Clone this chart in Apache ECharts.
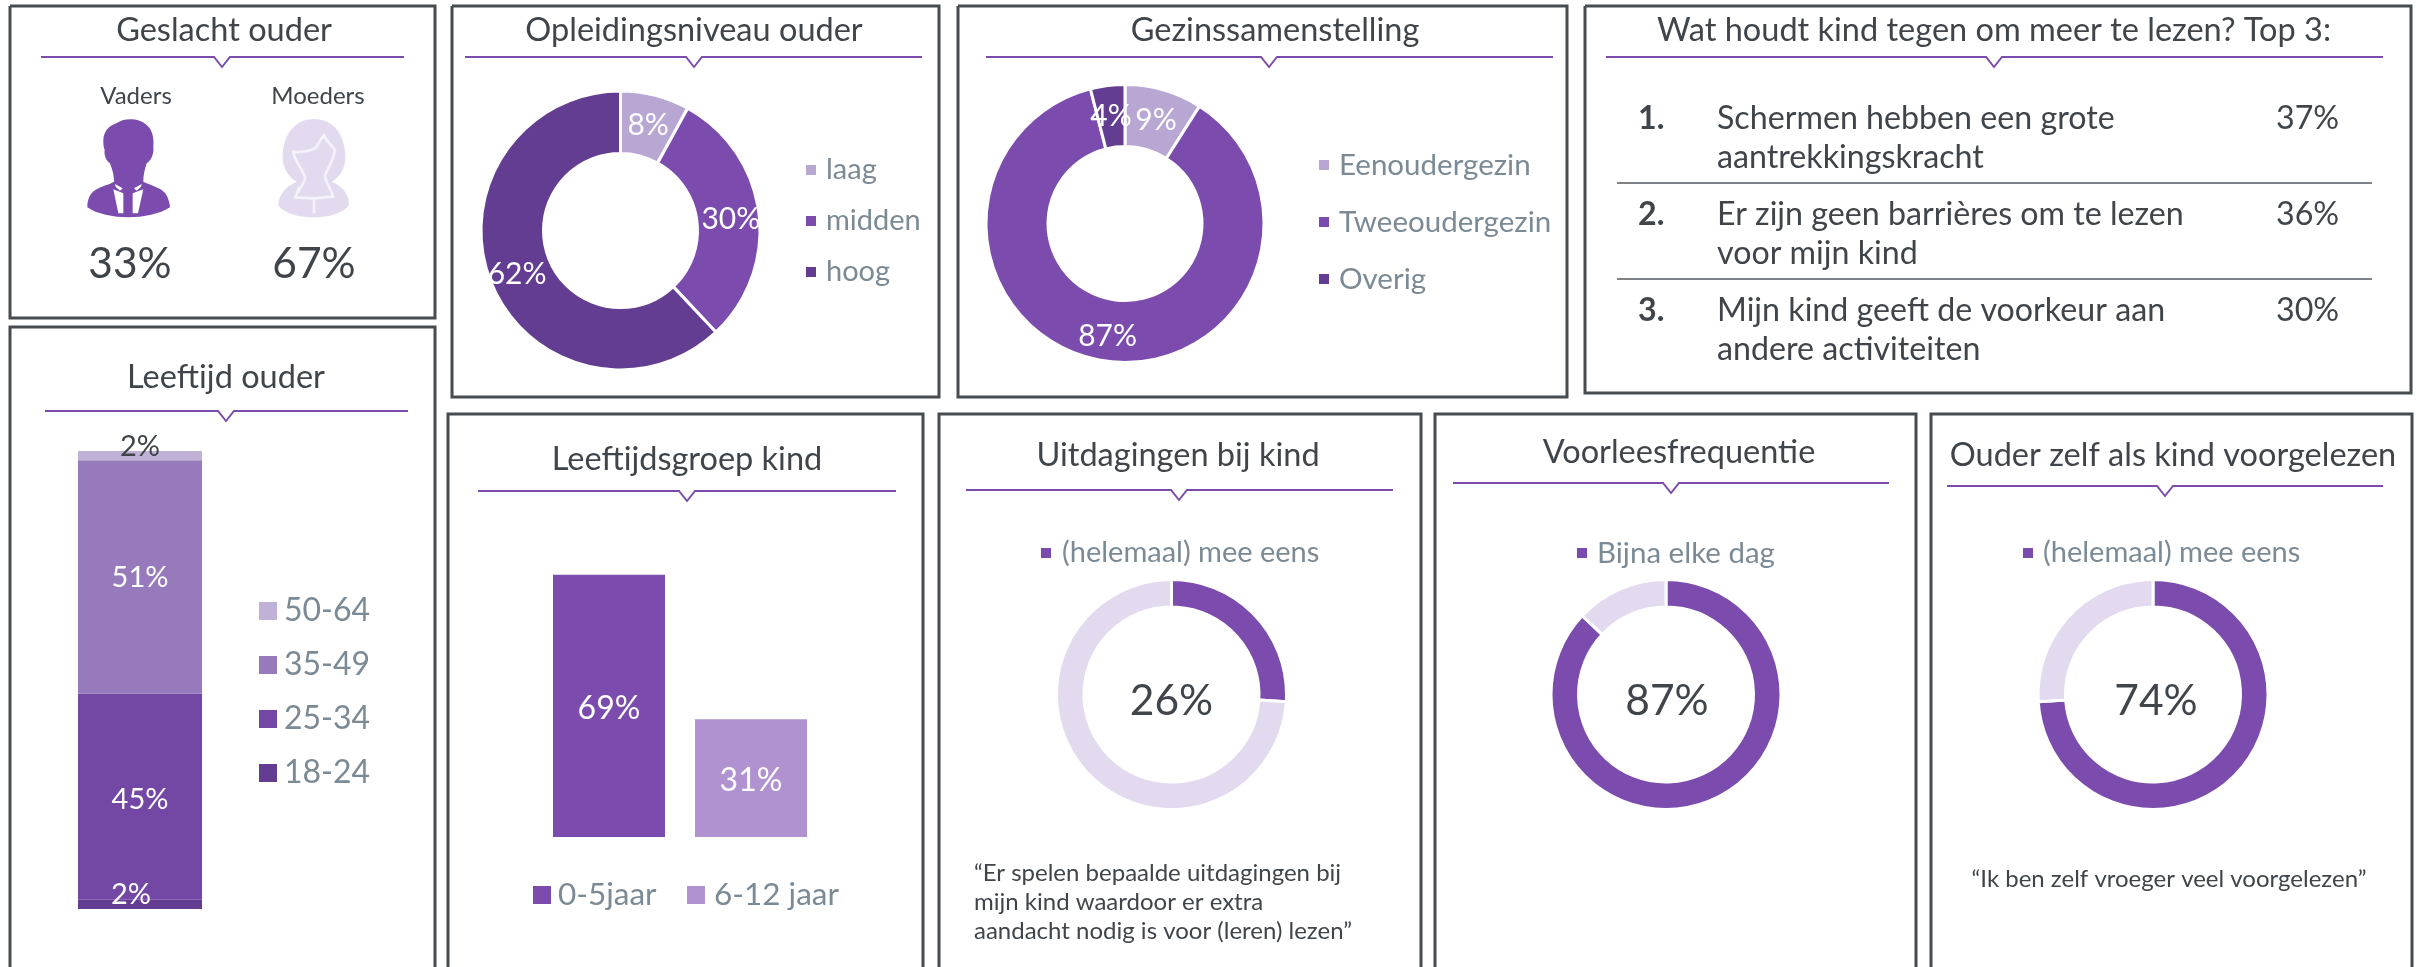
<!DOCTYPE html>
<html><head><meta charset="utf-8">
<style>html,body{margin:0;padding:0;background:#fff}#c{width:2420px;height:967px}</style>
<script src="https://cdn.jsdelivr.net/npm/echarts@6/dist/echarts.min.js"></script>
</head><body><div id="c"></div>
<script>
// ---- data ----
const genderLabels = ['Vaders', 'Moeders'];
const genderValues = [33, 67];
const educationNames = ['laag', 'midden', 'hoog'];
const educationValues = [8, 30, 62];
const familyNames = ['Eenoudergezin', 'Tweeoudergezin', 'Overig'];
const familyValues = [9, 87, 4];
const parentAgeNames = ['18-24', '25-34', '35-49', '50-64'];
const parentAgeValues = [2, 45, 51, 2];
const childAgeNames = ['0-5jaar', '6-12 jaar'];
const childAgeValues = [69, 31];
const challengeValue = [26, 74];
const readAloudValue = [87, 13];
const parentReadValue = [74, 26];
const agreeLabel = '(helemaal) mee eens';
const dailyLabel = 'Bijna elke dag';
const top3Numbers = ['1.', '2.', '3.'];
const top3Lines = [
  ['Schermen hebben een grote', 'aantrekkingskracht'],
  ['Er zijn geen barrières om te lezen', 'voor mijn kind'],
  ['Mijn kind geeft de voorkeur aan', 'andere activiteiten']
];
const top3Values = [37, 36, 30];
const quoteChallenge = ['“Er spelen bepaalde uitdagingen bij', 'mijn kind waardoor er extra', 'aandacht nodig is voor (leren) lezen”'];
const quoteParent = '“Ik ben zelf vroeger veel voorgelezen”';

// ---- style ----
const FONT = 'Lato';
const DARK = '#3f454a', GREY = '#7b8a94', BORDER = '#474c51';
const P = '#7b4cae', PD = '#633d91', PL = '#b8a6d3', PXL = '#e3daf0';

const g = [];
function text(t, x, y, size, opt) {
  opt = opt || {};
  g.push({type:'text', silent:true, z:20, x, y, style:{text:t, fill:opt.fill||DARK,
    font:(opt.weight||'normal')+' '+size+'px '+FONT, textAlign:opt.align||'center', textVerticalAlign:'middle'}});
}
function panel(x0,y0,x1,y1,open){
  const pts = open ? [[x0,967],[x0,y0],[x1,y0],[x1,967]] : [[x0,y0],[x1,y0],[x1,y1],[x0,y1],[x0,y0]];
  g.push({type:'polyline', silent:true, shape:{points:pts}, style:{fill:null, stroke:BORDER, lineWidth:3}});
}
function heading(t, cx, cy, x0, x1, nx, ly, size){
  text(t, cx, cy, size||32.5);
  g.push({type:'polyline', silent:true, shape:{points:[[x0,ly],[nx-8,ly],[nx,ly+10],[nx+8,ly],[x1,ly]]},
    style:{fill:null, stroke:P, lineWidth:2}});
}
function line(x0,x1,y){g.push({type:'line',silent:true,shape:{x1:x0,y1:y,x2:x1,y2:y},style:{stroke:'#55595e',lineWidth:1.5}});}
let iconCount = 0;
function icon(d, fill, stroke, lw){
  const shapeName = 'personIcon' + (iconCount++);
  echarts.graphic.registerShape(shapeName, echarts.graphic.extendPath(d, {}));
  g.push({type:shapeName, silent:true, scaleX:1/3, scaleY:1/3, shape:{},
    style:{fill:fill||null, stroke:stroke||null, lineWidth:lw||0, lineJoin:'round'}});
}

// panels
panel(10,6,435,318); panel(452,6,939,397); panel(958,6,1567,397); panel(1585,6,2411,393);
panel(10,327,435,0,true); panel(448,414,923,0,true); panel(939,414,1421,0,true); panel(1435,414,1916,0,true); panel(1931,414,2412,0,true);

// headings
heading('Geslacht ouder',224,31,41,404,222,57);
heading('Opleidingsniveau ouder',694,31,465,922,694,57);
heading('Gezinssamenstelling',1275,31,986,1553,1269,57);
heading('Wat houdt kind tegen om meer te lezen? Top 3:',1994,31,1606,2383,1994,57);
heading('Leeftijd ouder',226,378,45,408,226,411);
heading('Leeftijdsgroep kind',687,460,478,896,687,491);
heading('Uitdagingen bij kind',1178,456,966,1393,1179,490);
heading('Voorleesfrequentie',1679,453,1453,1889,1671,483);
heading('Ouder zelf als kind voorgelezen',2173,456,1947,2383,2165,486);

// gender block
text(genderLabels[0],136,96,24); text(genderLabels[1],318,96,24);
text(genderValues[0]+'%',130,264.5,42.5); text(genderValues[1]+'%',314,264.5,42.5);
icon('M310 420C310 385 340 372 352 368C375 352 420 355 440 375C458 390 462 415 460 440C462 460 455 480 440 490C436 505 430 520 430 545C455 558 490 562 502 590C508 605 510 615 510 622C480 642 430 652 385 652C340 652 290 642 262 622C262 600 268 580 290 568C305 558 325 555 342 545C342 520 335 505 330 490C315 480 312 460 314 450C310 440 310 430 310 420Z', P);
icon('M345 552L368 565L360 572L347 560ZM425 552L402 565L410 572L423 560ZM340 568L370 580L370 640L355 640ZM430 568L398 580L398 640L414 640Z', '#fff');
icon('M942 357C1000 357 1036 405 1036 470C1036 505 1020 530 995 545C1020 555 1047 575 1047 615C1030 640 985 652 942 652C895 652 850 640 835 615C835 580 865 555 890 545C865 530 848 505 848 470C848 405 885 357 942 357Z', PXL);
icon('M880 455C900 460 945 450 950 440C955 430 965 415 972 405C978 425 1000 440 1005 450C1000 480 985 505 975 525C975 545 985 550 1000 590L945 595L885 592C895 570 915 550 915 530C905 505 880 475 880 455ZM942 595L942 640M897 560L888 590', null, '#f6f2fb', 8);

// top 3 table
const rowY = [119, 215, 311];
top3Numbers.forEach((n,i)=>{
  text(n,1638,rowY[i],32.2,{align:'left',weight:'bold'});
  text(top3Lines[i][0],1717,rowY[i],32.2,{align:'left'});
  text(top3Lines[i][1],1717,rowY[i]+39,32.2,{align:'left'});
  text(top3Values[i]+'%',2276,rowY[i],32.2,{align:'left'});
});
line(1617,2372,183); line(1617,2372,279);

// quotes
quoteChallenge.forEach((q,i)=>text(q,974,873+i*29,24,{align:'left'}));
text(quoteParent,2169,879,24);

// ---- series ----
function ringLabel(size){return {show:true, position:'inside', formatter:'{c}%', color:'#fff', fontFamily:FONT, fontSize:size, offset:[0,3]};}
function bigPie(cx,cy,r0,r1,names,vals,cols){
  return {type:'pie', center:[cx,cy], radius:[r0,r1], startAngle:90, silent:true, animation:false,
    avoidLabelOverlap:false, label:ringLabel(30), labelLine:{show:false},
    itemStyle:{borderColor:'#fff',borderWidth:3},
    data:names.map((n,i)=>({name:n,value:vals[i],itemStyle:{color:cols[i],borderColor:'#fff',borderWidth:3}}))};
}
function gauge(cx,name,vals,dx){
  return {type:'pie', center:[cx,694.5], radius:[87.5,115], startAngle:90, silent:true, animation:false,
    avoidLabelOverlap:false, labelLine:{show:false},
    data:[
      {name:name,value:vals[0],itemStyle:{color:P,borderColor:'#fff',borderWidth:3},
       label:{show:true,position:'center',formatter:'{c}%',color:DARK,fontFamily:FONT,fontSize:42.5,offset:[dx,6.5]}},
      {name:name+' rest',value:vals[1],itemStyle:{color:PXL,borderColor:'#fff',borderWidth:3},label:{show:false}}
    ]};
}
const ageColors = ['#633d91','#7347a4','#977abc','#bfb2d6'];
const ageLabel = [
  {color:'#fff',offset:[-9,-10]},
  {color:'#fff',offset:[0,3]},
  {color:'#fff',offset:[0,1]},
  {color:DARK,offset:[0,-9]}
];
const series = [
  bigPie(620.5,230.5,77,139.5,educationNames,educationValues,[PL,P,PD]),
  bigPie(1125,223.5,77,139,familyNames,familyValues,[PL,P,PD]),
  gauge(1171.5,agreeLabel,challengeValue,0),
  gauge(1666,dailyLabel,readAloudValue,1),
  gauge(2153,agreeLabel,parentReadValue,3)
];
parentAgeNames.forEach((n,i)=>series.push({type:'bar', name:n, stack:'age', xAxisIndex:0, yAxisIndex:0,
  barWidth:124, silent:true, animation:false, data:[parentAgeValues[i]],
  itemStyle:{color:ageColors[i]},
  label:Object.assign({show:true,position:'inside',formatter:'{c}%',fontFamily:FONT,fontSize:29},ageLabel[i])}));
const childColors = [P,'#af92cf'];
childAgeNames.forEach((n,i)=>series.push({type:'bar', name:n, xAxisIndex:1, yAxisIndex:1,
  barWidth:112, barGap:'26.8%', silent:true, animation:false, data:[childAgeValues[i]],
  itemStyle:{color:childColors[i]},
  label:{show:true,position:'inside',formatter:'{c}%',color:'#fff',fontFamily:FONT,fontSize:32,offset:[0,3]}}));

function legend(names,left,top,size,mark,gap,orient,pad){
  return {data:names, left, top, orient:orient||'vertical', icon:'rect', itemWidth:mark, itemHeight:mark,
    itemGap:gap, padding:0, selectedMode:false, textStyle:{color:GREY,fontFamily:FONT,fontSize:size,lineHeight:30,padding:[0,0,0,pad||5]}};
}
const option = {
  backgroundColor:'#fff', animation:false,
  grid:[
    {left:60,width:160,top:451,height:458},
    {left:538,width:284,top:533,height:304}
  ],
  xAxis:[{type:'category',gridIndex:0,show:false,data:['ouder']},{type:'category',gridIndex:1,show:false,data:['kind']}],
  yAxis:[{type:'value',gridIndex:0,show:false,min:0,max:100},{type:'value',gridIndex:1,show:false,min:0,max:80}],
  legend:[
    legend(educationNames,804,155,29,12,21,'vertical',4),
    legend(familyNames,1317,150,29.5,12,27,'vertical',4),
    legend(parentAgeNames.slice().reverse(),259,595,32,18,22,'vertical',2),
    legend([childAgeNames[0]],533,879,31.5,18,0,'horizontal',2),
    legend([childAgeNames[1]],687,879,31.5,18,0,'horizontal',4),
    legend([agreeLabel],1039,538,29,12,0,'horizontal',5),
    legend([dailyLabel],1575,538,29.5,12,0,'horizontal',4),
    legend([agreeLabel],2021,538,29,12,0,'horizontal',4)
  ],
  series,
  graphic:{elements:g}
};
const chart = echarts.init(document.getElementById('c'),null,{renderer:'canvas',width:2420,height:967});
chart.setOption(option);
</script></body></html>
